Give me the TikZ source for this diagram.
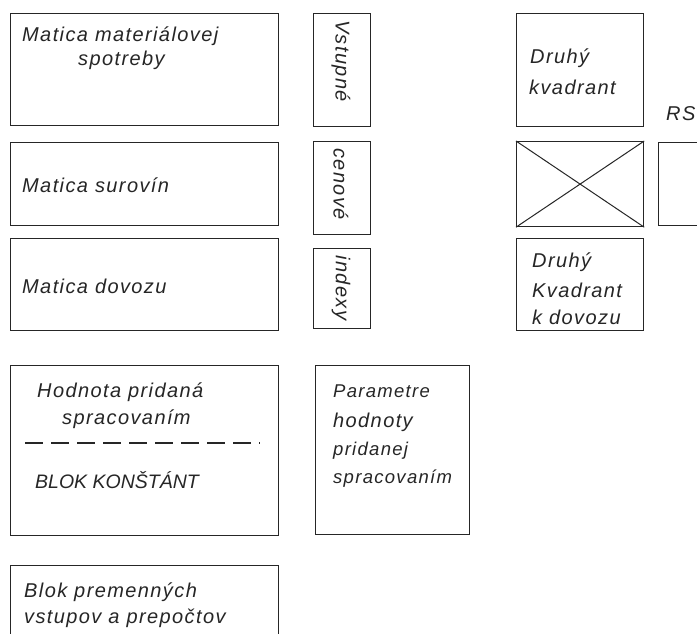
\documentclass[tikz,border=0pt]{standalone}
\usepackage{fontspec}
\setmainfont{Liberation Sans}
\newfontfamily\handfont[LetterSpace=7]{Liberation Sans}
\newfontfamily\handcapfont{Liberation Sans}
\newcommand{\hand}{\handfont\itshape\fontsize{20}{24}\selectfont}
\newcommand{\handsm}{\handfont\itshape\fontsize{18.5}{22}\selectfont}
\newcommand{\handcap}{\handcapfont\itshape\fontsize{19.5}{23}\selectfont}
\begin{document}
\begin{tikzpicture}[x=1pt,y=-1pt,
  box/.style={draw=black!85, line width=1.2pt, inner sep=0pt, anchor=north west},
  lbl/.style={anchor=base west, inner sep=0pt, font=\hand, text=black!85},
  vlbl/.style={inner sep=0pt, font=\hand, text=black!85, rotate=-90},
  thin line/.style={draw=black!85, line width=1pt}]
\useasboundingbox (0,0) rectangle (697,634);
\fill[white] (0,0) rectangle (697,634);
% left column
\node[box, minimum width=268pt, minimum height=112pt] (b1) at (10,13) {};
\node[box, minimum width=268pt, minimum height=83pt] (b2) at (10,142) {};
\node[box, minimum width=268pt, minimum height=92pt] (b3) at (10,238) {};
\node[lbl] (t1a) at (22,42) {Matica materiálovej};
\node[lbl] (t1b) at (78,66) {spotreby};
\node[lbl] (t2) at (22,193) {Matica surovín};
\node[lbl] (t3) at (22,293) {Matica dovozu};
% vertical column
\node[box, minimum width=57pt, minimum height=113pt] (v1) at (313,13) {};
\node[box, minimum width=57pt, minimum height=93pt] (v2) at (313,141) {};
\node[box, minimum width=57pt, minimum height=80pt] (v3) at (313,248) {};
\node[vlbl] (tv1) at (341,61) {Vstupné};
\node[vlbl] (tv2) at (341,184) {cenové};
\node[vlbl] (tv3) at (341,288) {indexy};
% right column
\node[box, minimum width=127pt, minimum height=113pt] (q1) at (516,13) {};
\node[box, minimum width=127pt, minimum height=85pt] (qx) at (516,141) {};
\node[box, minimum width=127pt, minimum height=92pt] (q3) at (516,238) {};
\node[box, minimum width=60pt, minimum height=83pt] (rs) at (658,142) {};
\draw[thin line] (qx.north west) -- (qx.south east);
\draw[thin line] (qx.south west) -- (qx.north east);
\node[lbl] (tq1a) at (530,64) {Druhý};
\node[lbl] (tq1b) at (529,95) {kvadrant};
\node[lbl] (trs) at (666,121) {RS};
\node[lbl] (tq3a) at (532,267) {Druhý};
\node[lbl] (tq3b) at (532,297) {Kvadrant};
\node[lbl] (tq3c) at (532,324) {k dovozu};
% lower blocks
\node[box, minimum width=268pt, minimum height=170pt] (h) at (10,365) {};
\node[lbl] (th1) at (37,397) {Hodnota pridaná};
\node[lbl] (th2) at (62,424) {spracovaním};
\coordinate (dl1) at (25,443);
\coordinate (dl2) at (260,443);
\draw[draw=black!85, line width=1.8pt, dash pattern=on 18pt off 8pt] (dl1) -- (dl2);
\node[lbl, font=\handcap] (th3) at (35,488) {BLOK KONŠTÁNT};
\node[box, minimum width=154pt, minimum height=169pt] (p) at (315,365) {};
\node[lbl, font=\handsm] (tp1) at (333,397) {Parametre};
\node[lbl] (tp2) at (333,427) {hodnoty};
\node[lbl, font=\handsm] (tp3) at (333,455) {pridanej};
\node[lbl, font=\handsm] (tp4) at (333,483) {spracovaním};
\node[box, minimum width=268pt, minimum height=90pt] (bl) at (10,565) {};
\node[lbl] (tb1) at (24,597) {Blok premenných};
\node[lbl] (tb2) at (24,623) {vstupov a prepočtov};
\end{tikzpicture}
\end{document}
